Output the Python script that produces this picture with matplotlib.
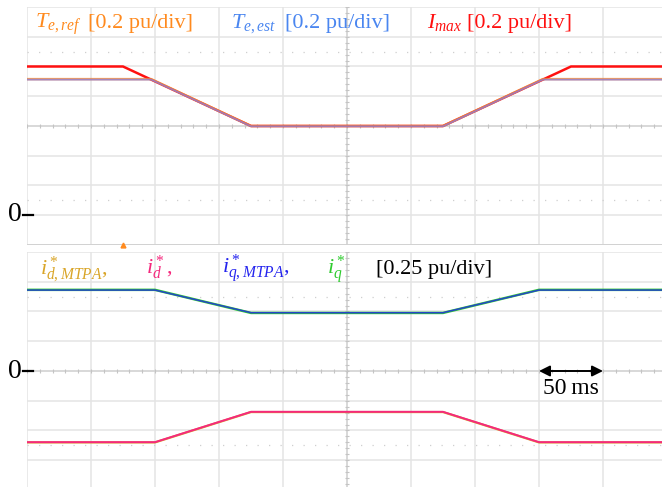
import matplotlib
matplotlib.use("Agg")
import matplotlib.pyplot as plt
import numpy as np

plt.rcParams["font.family"] = ["Liberation Serif", "DejaVu Serif"]
plt.rcParams["mathtext.fontset"] = "custom"
plt.rcParams["mathtext.rm"] = "Liberation Serif"
plt.rcParams["mathtext.it"] = "Liberation Serif:italic"

W, H = 662, 487

# --- traces (time in ms, values in pu) ---
t_imax = [0, 75, 175, 325, 425, 500]
imax = [1.0, 1.0, 0.6, 0.6, 1.0, 1.0]

t_te = [0, 97, 175, 325, 403, 500]
te_ref = [0.915, 0.915, 0.6, 0.6, 0.915, 0.915]
te_est = [0.912, 0.912, 0.598, 0.598, 0.912, 0.912]

t_cur = [0, 100, 175, 325, 400, 500]
iq_mtpa = [0.68, 0.68, 0.49, 0.49, 0.68, 0.68]
iq_ref = [0.682, 0.682, 0.488, 0.488, 0.682, 0.682]
id_mtpa = [-0.60, -0.60, -0.345, -0.345, -0.60, -0.60]
id_ref = [-0.598, -0.598, -0.343, -0.343, -0.598, -0.598]

trigger_t = 75
scale_bar = (400, 450)   # 50 ms

C_ORANGE = "#FF8A1E"
C_BLUE_T = "#4A86F0"
C_RED = "#FF1010"
C_GOLD = "#D9A528"
C_PINK = "#F5287D"
C_BLUE = "#2424EE"
C_GREEN = "#2FCB2F"
GRID = "#E4E4E4"


def fx(x):
    return x / W


def fy(y):
    return 1 - y / H


fig = plt.figure(figsize=(W / 100, H / 100), dpi=100)

ax_top = fig.add_axes([fx(27), fy(245), 640 / W, 238 / H])
ax_bot = fig.add_axes([fx(27), fy(490), 640 / W, 238 / H])


def scope_grid(ax, y0, ydiv):
    ax.set_xlim(0, 500)
    ax.set_ylim(y0, y0 + 8 * ydiv)
    for s in ax.spines.values():
        s.set_visible(False)
    ax.set_xticks([])
    ax.set_yticks([])
    for i in range(11):
        ax.axvline(i * 50, color=GRID, lw=1.1, zorder=0)
    for j in range(9):
        ax.axhline(y0 + j * ydiv, color=GRID, lw=1.1, zorder=0)
    for j in (1.5, 6.5):
        ax.axhline(y0 + j * ydiv, color="#CFCFCF", lw=0.9,
                   ls=(0, (1, 8.2)), zorder=0)
    # centre cross with small division ticks
    yc = y0 + 4 * ydiv
    ax.axhline(yc, color="#D4D4D4", lw=1.1, zorder=0)
    ax.axvline(250, color="#D4D4D4", lw=1.1, zorder=0)
    xt = np.arange(0, 501, 10)
    ax.vlines(xt, yc - ydiv * 0.07, yc + ydiv * 0.07, color="#C4C4C4", lw=0.8, zorder=0)
    yt = y0 + np.arange(0, 41) * ydiv / 5
    ax.hlines(yt, 250 - 1.8, 250 + 1.8, color="#C4C4C4", lw=0.8, zorder=0)


scope_grid(ax_top, -0.2, 0.2)
scope_grid(ax_bot, -1.0, 0.25)
ax_top.axhline(-0.2, color="#D0D0D0", lw=2.0, zorder=0)

# top panel: torque and current limit
ax_top.plot(t_imax, imax, color=C_RED, lw=1.8, zorder=3)
ax_top.plot(t_te, te_ref, color=C_ORANGE, lw=1.8, alpha=0.8, zorder=4)
ax_top.plot(t_te, te_est, color="#7C7CF2", lw=1.3, alpha=0.7, zorder=5)
ax_top.plot([trigger_t], [-0.2], marker="^", color=C_ORANGE, ms=3.5,
            clip_on=False, zorder=6)

# bottom panel: current references
ax_bot.plot(t_cur, iq_ref, color=C_GREEN, lw=1.8, zorder=3)
ax_bot.plot(t_cur, iq_mtpa, color=C_BLUE, lw=1.1, alpha=0.8, zorder=4)
ax_bot.plot(t_cur, id_mtpa, color=C_GOLD, lw=1.6, zorder=3)
ax_bot.plot(t_cur, id_ref, color=C_PINK, lw=1.4, zorder=4)

ax_bot.annotate("", xy=(scale_bar[1], 0), xytext=(scale_bar[0], 0),
                arrowprops=dict(arrowstyle="<|-|>", color="black", lw=1.4,
                                mutation_scale=16, shrinkA=0, shrinkB=0),
                zorder=6)
ax_bot.text(np.mean(scale_bar), -0.145, "50\u2009ms", ha="center", va="center",
            fontsize=17, color="black")

# channel labels
fs = 16
fig.text(fx(35), fy(28), r"$T_{e,ref}$", color=C_ORANGE, fontsize=fs, va="baseline")
fig.text(fx(88), fy(28), "[0.2 pu/div]", color=C_ORANGE, fontsize=fs, va="baseline")
fig.text(fx(231), fy(28), r"$T_{e,est}$", color=C_BLUE_T, fontsize=fs, va="baseline")
fig.text(fx(285), fy(28), "[0.2 pu/div]", color=C_BLUE_T, fontsize=fs, va="baseline")
fig.text(fx(427), fy(28), r"$I_{max}$", color=C_RED, fontsize=fs, va="baseline")
fig.text(fx(467), fy(28), "[0.2 pu/div]", color=C_RED, fontsize=fs, va="baseline")

fig.text(fx(40), fy(274), r"$i^*_{d,MTPA}$,", color=C_GOLD, fontsize=fs, va="baseline")
fig.text(fx(146), fy(274), r"$i^*_{d}$,", color=C_PINK, fontsize=fs, va="baseline")
fig.text(fx(222), fy(274), r"$i^*_{q,MTPA}$,", color=C_BLUE, fontsize=fs, va="baseline")
fig.text(fx(327), fy(274), r"$i^*_{q}$", color=C_GREEN, fontsize=fs, va="baseline")
fig.text(fx(376), fy(274), "[0.25 pu/div]", color="black", fontsize=fs, va="baseline")

# zero markers
for y in (215, 371):
    fig.text(fx(22), fy(y), "0", fontsize=20, ha="right", va="center", color="black")
    fig.add_artist(plt.Line2D([fx(23), fx(33)], [fy(y), fy(y)], color="black", lw=1.6))

fig.savefig("out.png", dpi=100)
